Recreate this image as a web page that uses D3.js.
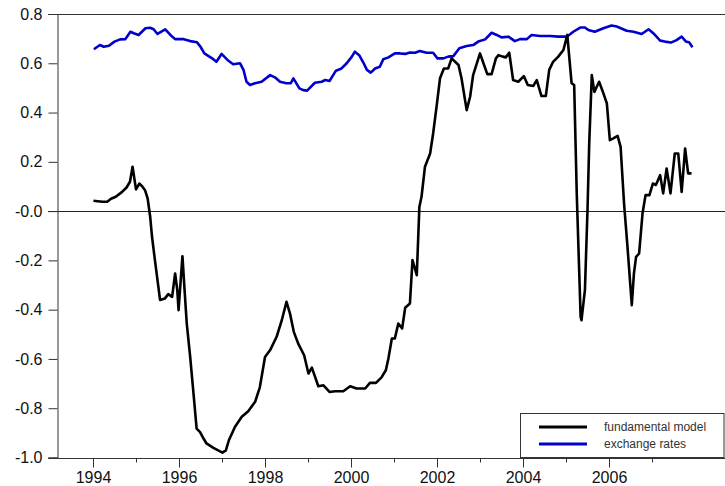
<!DOCTYPE html>
<html>
<head>
<meta charset="utf-8">
<script src="https://cdn.jsdelivr.net/npm/d3@7"></script>
<style>
  html, body { margin: 0; padding: 0; background: #fff; }
  svg { display: block; }
  text { font-family: Arial, "Liberation Sans", sans-serif; }
</style>
</head>
<body>
<div id="chart"></div>
<script>
// ---- data (decimal year, value) ----
const fundYears = [1994.01,1994.11,1994.22,1994.33,1994.42,1994.53,1994.67,1994.78,1994.86,1994.92,1995.00,1995.08,1995.15,1995.21,1995.27,1995.33,1995.37,1995.44,1995.56,1995.67,1995.75,1995.84,1995.91,1995.96,1995.99,1996.04,1996.08,1996.12,1996.18,1996.26,1996.33,1996.41,1996.49,1996.57,1996.64,1996.80,1996.91,1997.01,1997.09,1997.16,1997.30,1997.46,1997.61,1997.77,1997.88,1998.00,1998.12,1998.27,1998.39,1998.50,1998.58,1998.67,1998.77,1998.91,1999.01,1999.09,1999.24,1999.36,1999.50,1999.63,1999.82,1999.98,2000.13,2000.33,2000.44,2000.58,2000.71,2000.81,2000.87,2000.95,2001.02,2001.10,2001.19,2001.26,2001.37,2001.43,2001.53,2001.59,2001.64,2001.72,2001.84,2001.91,2001.99,2002.07,2002.16,2002.26,2002.34,2002.50,2002.57,2002.69,2002.77,2002.84,2003.00,2003.08,2003.17,2003.27,2003.37,2003.43,2003.53,2003.60,2003.68,2003.77,2003.89,2004.02,2004.11,2004.24,2004.32,2004.43,2004.53,2004.61,2004.70,2004.82,2004.94,2005.03,2005.13,2005.19,2005.25,2005.34,2005.36,2005.44,2005.50,2005.54,2005.60,2005.66,2005.77,2005.87,2005.95,2006.02,2006.10,2006.20,2006.27,2006.35,2006.43,2006.53,2006.58,2006.63,2006.70,2006.78,2006.85,2006.94,2007.02,2007.09,2007.19,2007.26,2007.34,2007.43,2007.53,2007.61,2007.69,2007.77,2007.84,2007.92];
const fundValues = [0.042,0.040,0.038,0.038,0.050,0.058,0.077,0.096,0.119,0.180,0.088,0.112,0.099,0.085,0.052,-0.023,-0.100,-0.199,-0.361,-0.355,-0.337,-0.348,-0.253,-0.321,-0.402,-0.280,-0.183,-0.294,-0.456,-0.592,-0.727,-0.883,-0.897,-0.923,-0.943,-0.961,-0.971,-0.980,-0.971,-0.930,-0.876,-0.835,-0.812,-0.774,-0.715,-0.592,-0.564,-0.510,-0.443,-0.368,-0.415,-0.490,-0.537,-0.585,-0.659,-0.635,-0.711,-0.707,-0.734,-0.731,-0.731,-0.711,-0.720,-0.720,-0.697,-0.697,-0.675,-0.646,-0.598,-0.517,-0.517,-0.456,-0.476,-0.392,-0.375,-0.199,-0.260,0.017,0.058,0.180,0.234,0.315,0.424,0.539,0.579,0.579,0.620,0.593,0.539,0.410,0.464,0.552,0.640,0.600,0.556,0.556,0.620,0.633,0.627,0.624,0.643,0.532,0.525,0.548,0.512,0.508,0.532,0.467,0.467,0.573,0.606,0.627,0.654,0.715,0.519,0.512,0.072,-0.429,-0.443,-0.321,0.004,0.275,0.552,0.484,0.525,0.478,0.437,0.288,0.295,0.305,0.261,0.031,-0.145,-0.382,-0.253,-0.186,-0.172,-0.009,0.065,0.065,0.112,0.106,0.146,0.072,0.173,0.072,0.234,0.234,0.078,0.254,0.153,0.153];

const fxYears = [1994.02,1994.16,1994.25,1994.37,1994.50,1994.63,1994.75,1994.87,1994.95,1995.06,1995.22,1995.33,1995.41,1995.50,1995.68,1995.80,1995.91,1996.11,1996.26,1996.42,1996.50,1996.59,1996.77,1996.87,1996.99,1997.15,1997.26,1997.42,1997.50,1997.57,1997.65,1997.77,1997.92,1998.12,1998.23,1998.35,1998.50,1998.60,1998.66,1998.80,1998.89,1998.98,1999.16,1999.32,1999.40,1999.50,1999.65,1999.78,1999.90,2000.02,2000.09,2000.19,2000.29,2000.37,2000.46,2000.56,2000.67,2000.75,2000.87,2001.02,2001.14,2001.26,2001.37,2001.49,2001.60,2001.76,2001.91,2002.01,2002.15,2002.26,2002.38,2002.52,2002.69,2002.84,2002.96,2003.12,2003.27,2003.39,2003.50,2003.66,2003.81,2003.93,2004.09,2004.20,2004.40,2004.63,2004.82,2005.02,2005.17,2005.33,2005.44,2005.52,2005.67,2005.87,2006.06,2006.18,2006.41,2006.57,2006.76,2006.92,2007.03,2007.19,2007.30,2007.44,2007.57,2007.69,2007.79,2007.87,2007.94];
const fxValues = [0.657,0.674,0.667,0.671,0.688,0.697,0.698,0.728,0.722,0.715,0.742,0.744,0.738,0.719,0.738,0.715,0.698,0.698,0.690,0.685,0.667,0.640,0.620,0.606,0.638,0.610,0.596,0.600,0.573,0.525,0.512,0.519,0.525,0.552,0.543,0.525,0.519,0.519,0.539,0.498,0.491,0.489,0.521,0.525,0.532,0.528,0.570,0.579,0.600,0.627,0.647,0.633,0.602,0.573,0.562,0.579,0.586,0.616,0.624,0.640,0.640,0.638,0.644,0.643,0.650,0.643,0.643,0.620,0.620,0.627,0.629,0.661,0.670,0.674,0.688,0.697,0.724,0.715,0.705,0.708,0.690,0.698,0.698,0.715,0.711,0.711,0.708,0.708,0.728,0.745,0.745,0.735,0.728,0.742,0.753,0.749,0.732,0.728,0.719,0.738,0.722,0.692,0.688,0.684,0.694,0.708,0.688,0.684,0.665];

const yTickValues = [0.8, 0.6, 0.4, 0.2, 0.0, -0.2, -0.4, -0.6, -0.8, -1.0];
const yTickLabels = ["0.8","0.6","0.4","0.2","-0.0","-0.2","-0.4","-0.6","-0.8","-1.0"];
const xMajorTicks = [1994, 1996, 1998, 2000, 2002, 2004, 2006];
const xMinorTicks = [1995, 1997, 1999, 2001, 2003, 2005, 2007];
const seriesNames = ["fundamental model", "exchange rates"];
const seriesColors = ["#000000", "#0000cc"];

// ---- layout ----
const W = 725, H = 486;
const axisX = 57, topY = 14, botY = 457.5, rightX = 725;

const x = d3.scaleLinear().domain([1994, 2008]).range([93, 695]);
const y = d3.scaleLinear().domain([-1.0, 0.8]).range([botY, topY]);

const svg = d3.select("#chart").append("svg")
  .attr("width", W).attr("height", H);

// top border line (continuation of top tick)
svg.append("line").attr("x1", 48).attr("x2", rightX)
  .attr("y1", y(0.8) + 0.5).attr("y2", y(0.8) + 0.5)
  .attr("stroke", "#333").attr("stroke-width", 1);

// zero line
svg.append("line").attr("x1", 48).attr("x2", rightX)
  .attr("y1", Math.round(y(0)) + 0.5).attr("y2", Math.round(y(0)) + 0.5)
  .attr("stroke", "#222").attr("stroke-width", 1);

// Y axis
const yAxis = d3.axisLeft(y).tickValues(yTickValues)
  .tickFormat((d, i) => yTickLabels[i]).tickSize(9).tickPadding(6);
const gy = svg.append("g").attr("transform", `translate(${axisX + 0.5},0)`).call(yAxis);
gy.select(".domain").attr("stroke", "#333");
gy.selectAll(".tick line").attr("stroke", "#333");
gy.selectAll(".tick text").attr("font-size", 16).attr("fill", "#111")
  .style("font-family", "Arial, 'Liberation Sans', sans-serif");

// X axis line (bottom)
svg.append("line").attr("x1", 48).attr("x2", rightX)
  .attr("y1", Math.round(botY) + 0.5).attr("y2", Math.round(botY) + 0.5)
  .attr("stroke", "#333").attr("stroke-width", 1);

const xAxis = d3.axisBottom(x).tickValues(xMajorTicks)
  .tickFormat(d3.format("d")).tickSize(9).tickPadding(4);
const gx = svg.append("g").attr("transform", `translate(0,${Math.round(botY) + 0.5})`).call(xAxis);
gx.select(".domain").remove();
gx.selectAll(".tick line").attr("stroke", "#333");
gx.selectAll(".tick text").attr("font-size", 16).attr("fill", "#111")
  .style("font-family", "Arial, 'Liberation Sans', sans-serif");

const xAxisMinor = d3.axisBottom(x).tickValues(xMinorTicks)
  .tickFormat("").tickSize(4);
const gxm = svg.append("g").attr("transform", `translate(0,${Math.round(botY) + 0.5})`).call(xAxisMinor);
gxm.select(".domain").remove();
gxm.selectAll(".tick line").attr("stroke", "#333");

// ---- lines ----
const line = d3.line().x(d => x(d[0])).y(d => y(d[1]));
const fundData = fundYears.map((t, i) => [t, fundValues[i]]);
const fxData = fxYears.map((t, i) => [t, fxValues[i]]);

svg.append("path").datum(fxData).attr("d", line)
  .attr("fill", "none").attr("stroke", seriesColors[1]).attr("stroke-width", 2.6)
  .attr("stroke-linejoin", "round");
svg.append("path").datum(fundData).attr("d", line)
  .attr("fill", "none").attr("stroke", seriesColors[0]).attr("stroke-width", 2.6)
  .attr("stroke-linejoin", "round");

// ---- legend ----
const lg = svg.append("g");
lg.append("rect").attr("x", 520.5).attr("y", 413.5).attr("width", 203.5).attr("height", 44)
  .attr("fill", "#fff").attr("stroke", "#333").attr("stroke-width", 1);
seriesNames.forEach((name, i) => {
  const ly = 427 + i * 17;
  lg.append("line").attr("x1", 539).attr("x2", 587).attr("y1", ly).attr("y2", ly)
    .attr("stroke", seriesColors[i]).attr("stroke-width", 3);
  lg.append("text").attr("x", 604).attr("y", ly).attr("dy", "0.35em")
    .attr("font-size", 12).attr("fill", "#333").text(name);
});
</script>
</body>
</html>
